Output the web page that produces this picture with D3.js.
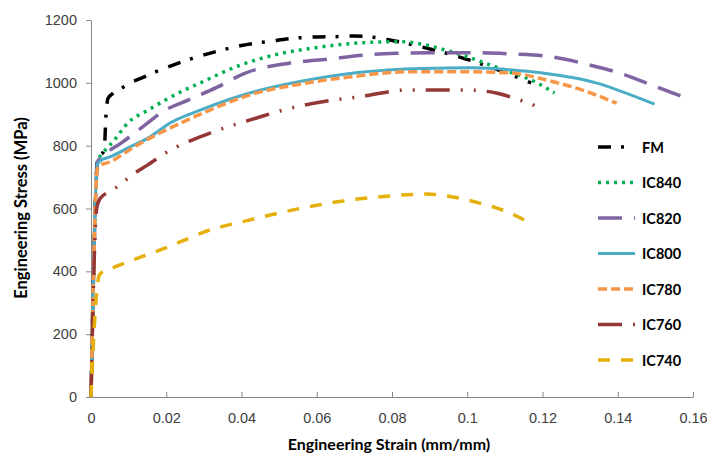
<!DOCTYPE html>
<html>
<head>
<meta charset="utf-8">
<script src="https://cdn.jsdelivr.net/npm/d3@7"></script>
<style>
  body { margin: 0; background: #fff; }
  svg { display: block; font-family: Lato, "Open Sans", sans-serif; }
</style>
</head>
<body>
<div id="chart"></div>
<script>
// stress-strain curves, values
const xTicks = [0, 0.02, 0.04, 0.06, 0.08, 0.1, 0.12, 0.14, 0.16];
const yTicks = [0, 200, 400, 600, 800, 1000, 1200];

const fmStrain = [0, 0.0018, 0.0035, 0.004, 0.0045, 0.006, 0.008, 0.011, 0.014, 0.017, 0.02, 0.025, 0.03, 0.035, 0.04, 0.048, 0.055, 0.06, 0.065, 0.07, 0.075, 0.08, 0.088, 0.098, 0.108, 0.117];
const fmStress = [0, 760, 785, 900, 950, 968, 982, 1003, 1018, 1034, 1048, 1070, 1089, 1105, 1119, 1133, 1143, 1146, 1147, 1149, 1145, 1135, 1114, 1082, 1042, 1000];

const ic840Strain = [0, 0.0018, 0.003, 0.0045, 0.006, 0.01, 0.015, 0.02, 0.025, 0.03, 0.035, 0.04, 0.045, 0.05, 0.061, 0.07, 0.082, 0.088, 0.093, 0.1, 0.106, 0.112, 0.117, 0.1232];
const ic840Stress = [0, 750, 775, 795, 815, 875, 912, 947, 978, 1005, 1033, 1058, 1077, 1092, 1114, 1126, 1131, 1123, 1108, 1083, 1057, 1032, 1009, 968];

const ic820Strain = [0, 0.0018, 0.003, 0.004, 0.008, 0.0133, 0.0197, 0.0258, 0.0337, 0.041, 0.053, 0.0635, 0.0722, 0.0813, 0.09, 0.1015, 0.112, 0.121, 0.1325, 0.1405, 0.149, 0.1575];
const ic820Stress = [0, 750, 765, 776, 808, 856, 913, 945, 987, 1031, 1063, 1076, 1088, 1094, 1096, 1096, 1092, 1085, 1057, 1031, 993, 955];

const ic800Strain = [0, 0.0017, 0.0025, 0.005, 0.0104, 0.0157, 0.021, 0.029, 0.042, 0.0555, 0.071, 0.088, 0.1015, 0.112, 0.119, 0.1345, 0.14, 0.1498];
const ic800Stress = [0, 740, 752, 764, 796, 828, 872, 913, 967, 1004, 1033, 1046, 1048, 1041, 1033, 999, 977, 932];

const ic780Strain = [0, 0.0017, 0.0025, 0.005, 0.01, 0.015, 0.021, 0.03, 0.042, 0.055, 0.069, 0.084, 0.1015, 0.112, 0.121, 0.1306, 0.1397];
const ic780Stress = [0, 725, 738, 748, 785, 820, 856, 905, 961, 995, 1019, 1035, 1035, 1031, 1009, 977, 935];

const ic760Strain = [0, 0.0015, 0.0025, 0.0058, 0.0085, 0.0117, 0.015, 0.0197, 0.0316, 0.044, 0.051, 0.0643, 0.071, 0.084, 0.0999, 0.108, 0.114, 0.117, 0.12];
const ic760Stress = [0, 600, 633, 659, 684, 713, 738, 776, 840, 888, 913, 945, 955, 977, 977, 967, 945, 933, 910];

const ic740Strain = [0, 0.001, 0.002, 0.0025, 0.0064, 0.0133, 0.0197, 0.025, 0.03, 0.042, 0.0547, 0.067, 0.0794, 0.0892, 0.0927, 0.1033, 0.1105, 0.1165];
const ic740Stress = [0, 250, 380, 393, 414, 446, 474, 500, 525, 563, 598, 624, 640, 646, 643, 617, 590, 555];

const series = [
  {name: "FM",    x: fmStrain,    y: fmStress,    color: "#000000", dash: "13,10,3,11", w: 3.5},
  {name: "IC840", x: ic840Strain, y: ic840Stress, color: "#00B050", dash: "3,5",        w: 3.5},
  {name: "IC820", x: ic820Strain, y: ic820Stress, color: "#8064A2", dash: "24,12",      w: 3.5},
  {name: "IC800", x: ic800Strain, y: ic800Stress, color: "#4BACC6", dash: null,         w: 3},
  {name: "IC780", x: ic780Strain, y: ic780Stress, color: "#F79646", dash: "9,4",        w: 3.5},
  {name: "IC760", x: ic760Strain, y: ic760Stress, color: "#953735", dash: "24,11,2,11,2,11", w: 3.5},
  {name: "IC740", x: ic740Strain, y: ic740Stress, color: "#E6B00A", dash: "12,11",      w: 3.5}
];

const width = 707, height = 455;
const margin = {top: 20, right: 14, bottom: 58, left: 91};

const svg = d3.select("#chart").append("svg")
  .attr("width", width)
  .attr("height", height);

const x = d3.scaleLinear()
  .domain([0, 0.16])
  .range([margin.left, width - margin.right]);

const y = d3.scaleLinear()
  .domain([0, 1200])
  .range([height - margin.bottom, margin.top]);

const axisColor = "#868686";

// y axis
const gy = svg.append("g")
  .attr("transform", `translate(${margin.left},0)`)
  .call(d3.axisLeft(y).tickValues(yTicks).tickFormat(d3.format("d")).tickSize(5).tickSizeOuter(0).tickPadding(9));
gy.select(".domain").attr("stroke", axisColor);
gy.selectAll(".tick line").attr("stroke", axisColor);
gy.selectAll(".tick text").attr("fill", "#404040").style("font-size", "14.5px");

// x axis, ticks point up into the plot
const gx = svg.append("g")
  .attr("transform", `translate(0,${y(0)})`)
  .call(d3.axisBottom(x).tickValues(xTicks).tickFormat(d => String(d)).tickSize(-5).tickSizeOuter(0));
gx.select(".domain").attr("stroke", axisColor);
gx.selectAll(".tick line").attr("stroke", axisColor);
gx.selectAll(".tick text")
  .attr("fill", "#404040")
  .attr("y", 25.5)
  .attr("dy", null)
  .style("font-size", "14.5px");

// axis titles
svg.append("text")
  .attr("x", 389).attr("y", 450)
  .attr("text-anchor", "middle")
  .style("font-size", "16px").style("font-weight", "bold")
  .text("Engineering Strain (mm/mm)");

svg.append("text")
  .attr("transform", "translate(27,208) rotate(-90)")
  .attr("text-anchor", "middle")
  .style("font-size", "16.5px").style("font-weight", "bold")
  .text("Engineering Stress (MPa)");

// curves
const line = d3.line()
  .x(d => x(d[0]))
  .y(d => y(d[1]))
  .curve(d3.curveMonotoneX);

svg.append("g")
  .selectAll("path")
  .data(series)
  .join("path")
  .attr("d", s => line(s.x.map((v, i) => [v, s.y[i]])))
  .attr("fill", "none")
  .attr("stroke", s => s.color)
  .attr("stroke-width", s => s.w)
  .attr("stroke-dasharray", s => s.dash);

// legend
const legend = svg.append("g")
  .selectAll("g")
  .data(series)
  .join("g")
  .attr("transform", (s, i) => `translate(598,${147 + i * 35.5})`);

legend.append("line")
  .attr("x1", 0).attr("x2", 37)
  .attr("stroke", s => s.color)
  .attr("stroke-width", s => s.w)
  .attr("stroke-dasharray", s => s.dash);

legend.append("text")
  .attr("x", 44).attr("y", 5.5)
  .style("font-size", "14.5px").style("font-weight", "bold")
  .text(s => s.name);
</script>
</body>
</html>
